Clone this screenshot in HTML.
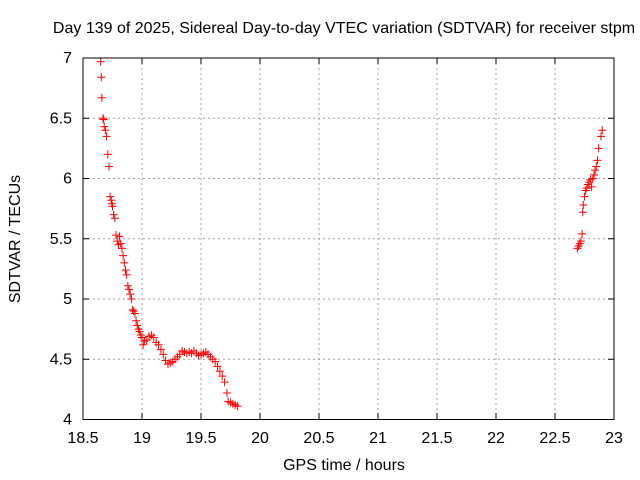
<!DOCTYPE html>
<html><head><meta charset="utf-8"><style>
body{margin:0;background:#fff}
svg{display:block;font-family:"Liberation Sans",sans-serif}
</style></head><body>
<svg id="chart" width="640" height="480">
<rect width="640" height="480" fill="#fff"/>
<text x="344" y="33" font-size="16" text-anchor="middle">Day 139 of 2025, Sidereal Day-to-day VTEC variation (SDTVAR) for receiver stpm</text>
<text x="344" y="470" font-size="16" text-anchor="middle">GPS time / hours</text>
<text transform="translate(20,239) rotate(-90)" font-size="16" text-anchor="middle">SDTVAR / TECUs</text>
<g id="grid"></g><g id="ticks"></g><g id="marks"></g>
<rect x="83" y="58" width="531" height="361.5" fill="none" stroke="#000" stroke-width="1"/>
</svg>
<script>
const xTicks=[18.5,19,19.5,20,20.5,21,21.5,22,22.5,23];
const xTickLabels=["18.5","19","19.5","20","20.5","21","21.5","22","22.5","23"];
const yTicks=[4,4.5,5,5.5,6,6.5,7];
const yTickLabels=["4","4.5","5","5.5","6","6.5","7"];
const times=[18.65,18.655,18.66,18.67,18.675,18.68,18.69,18.70,18.71,18.72,18.73,18.74,18.745,18.75,18.76,18.77,18.78,18.79,18.80,18.81,18.82,18.83,18.84,18.85,18.86,18.87,18.88,18.89,18.90,18.91,18.92,18.93,18.94,18.95,18.96,18.97,18.98,18.99,19.00,19.01,19.02,19.04,19.06,19.08,19.10,19.12,19.14,19.16,19.18,19.20,19.22,19.24,19.26,19.28,19.30,19.32,19.34,19.36,19.38,19.40,19.42,19.44,19.46,19.48,19.50,19.52,19.54,19.56,19.58,19.60,19.62,19.64,19.66,19.68,19.70,19.72,19.73,19.75,19.77,19.79,19.81,
22.69,22.70,22.71,22.72,22.73,22.735,22.74,22.75,22.76,22.77,22.78,22.79,22.80,22.81,22.82,22.83,22.84,22.85,22.86,22.87,22.89,22.90];
const sdtvar=[6.97,6.84,6.67,6.50,6.49,6.43,6.40,6.35,6.20,6.10,5.85,5.82,5.79,5.77,5.70,5.67,5.53,5.48,5.45,5.52,5.46,5.42,5.36,5.30,5.24,5.20,5.11,5.08,5.04,5.00,4.91,4.90,4.88,4.82,4.78,4.75,4.73,4.70,4.68,4.62,4.65,4.66,4.69,4.70,4.68,4.64,4.62,4.58,4.54,4.49,4.46,4.47,4.48,4.50,4.52,4.54,4.57,4.56,4.55,4.56,4.55,4.57,4.55,4.53,4.54,4.55,4.56,4.54,4.52,4.50,4.48,4.44,4.40,4.36,4.31,4.22,4.15,4.14,4.13,4.12,4.11,
5.42,5.44,5.46,5.48,5.54,5.72,5.78,5.85,5.90,5.92,5.95,5.97,5.99,5.93,6.00,6.03,6.07,6.10,6.15,6.25,6.35,6.40];
const NS="http://www.w3.org/2000/svg";
function sx(v){return 83+(v-18.5)/4.5*531;}
function sy(v){return 419.5-(v-4)/3*361.5;}
const grid=document.getElementById('grid'),ticks=document.getElementById('ticks'),marks=document.getElementById('marks');
function mk(tag,attrs,parent){const e=document.createElementNS(NS,tag);for(const k in attrs)e.setAttribute(k,attrs[k]);parent.appendChild(e);return e;}
xTicks.forEach((t,i)=>{const x=sx(t);
 if(i>0&&i<xTicks.length-1){const g=mk('line',{x1:x,x2:x,y1:58,y2:419.5,stroke:'#a0a0a0','stroke-dasharray':'2,3'},grid);
 
 }
 mk('line',{x1:x,x2:x,y1:419.5,y2:413,stroke:'#000'},ticks);
 mk('line',{x1:x,x2:x,y1:58,y2:64,stroke:'#000'},ticks);
 const l=mk('text',{x:x,y:443,'font-size':16,'text-anchor':'middle'},ticks);l.textContent=xTickLabels[i];
 
 });
yTicks.forEach((t,i)=>{const y=sy(t);
 if(i>0&&i<yTicks.length-1){const g=mk('line',{x1:83,x2:614,y1:y,y2:y,stroke:'#a0a0a0','stroke-dasharray':'2,3'},grid);
 
 }
 mk('line',{x1:83,x2:89,y1:y,y2:y,stroke:'#000'},ticks);
 mk('line',{x1:614,x2:608,y1:y,y2:y,stroke:'#000'},ticks);
 const l=mk('text',{x:72,y:y+5,'font-size':16,'text-anchor':'end'},ticks);l.textContent=yTickLabels[i];
 
 });
times.forEach((t,i)=>{const x=sx(t),y=sy(sdtvar[i]);
 const p=mk('path',{d:`M${x-4},${y}h8M${x},${y-4}v8`,stroke:'#f00','stroke-width':1},marks);
 
 });
</script>
</body></html>
